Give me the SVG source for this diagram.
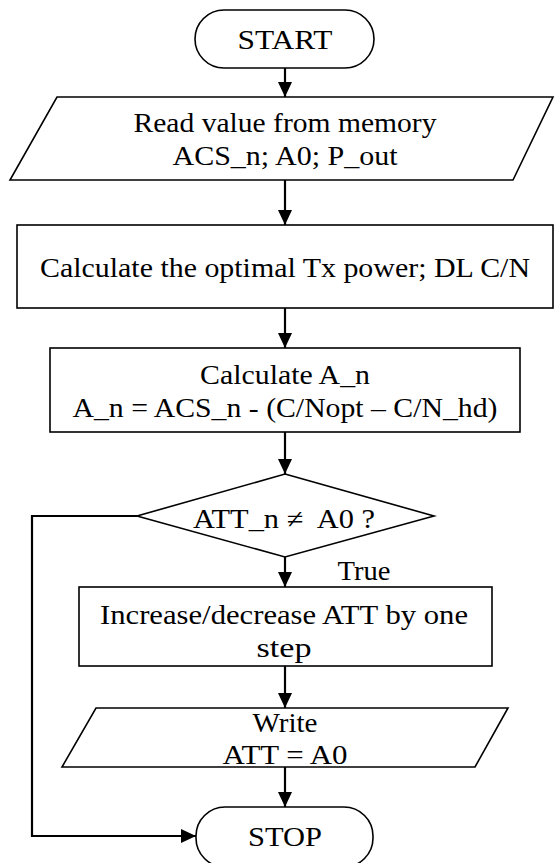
<svg xmlns="http://www.w3.org/2000/svg" width="555" height="863" viewBox="0 0 555 863">
<style>
.s{fill:#fff;stroke:#000;stroke-width:1.6}
.t{font-family:"Liberation Serif","Times New Roman",serif;font-size:27px;fill:#000;text-anchor:middle;white-space:pre}
.c{fill:none;stroke:#000;stroke-width:2.2}
</style>
<defs>
<marker id="ah" markerWidth="15" markerHeight="14" refX="15" refY="7" orient="auto" markerUnits="userSpaceOnUse">
<path d="M0,0 L15,7 L0,14 Z" fill="#000"/>
</marker>
</defs>
<rect width="555" height="863" fill="#fff"/>
<g id="connectors">
<line class="c" x1="285" y1="68" x2="285" y2="97" marker-end="url(#ah)"/>
<line class="c" x1="285" y1="180" x2="285" y2="225" marker-end="url(#ah)"/>
<line class="c" x1="285" y1="308" x2="285" y2="348" marker-end="url(#ah)"/>
<line class="c" x1="285" y1="432" x2="285" y2="474" marker-end="url(#ah)"/>
<line class="c" x1="285" y1="557" x2="285" y2="587" marker-end="url(#ah)"/>
<line class="c" x1="285" y1="666" x2="285" y2="708" marker-end="url(#ah)"/>
<line class="c" x1="285" y1="767" x2="285" y2="807" marker-end="url(#ah)"/>
<polyline class="c" points="137,516 32,516 32,836 196,836" marker-end="url(#ah)"/>
<text class="t" x="364" y="580" textLength="53" lengthAdjust="spacingAndGlyphs">True</text>
</g>
<g id="start">
<rect class="s" x="195" y="10" width="179" height="58" rx="29"/>
<text class="t" x="285" y="49" textLength="95" lengthAdjust="spacingAndGlyphs">START</text>
</g>
<g id="read">
<polygon class="s" points="57,97 553,97 513,180 10,180"/>
<text class="t" x="285" y="132" textLength="303" lengthAdjust="spacingAndGlyphs">Read value from memory</text>
<text class="t" x="285" y="165" textLength="225" lengthAdjust="spacingAndGlyphs">ACS_n; A0; P_out</text>
</g>
<g id="calc-power">
<rect class="s" x="17" y="225" width="536" height="83"/>
<text class="t" x="285" y="277" textLength="490" lengthAdjust="spacingAndGlyphs">Calculate the optimal Tx power; DL C/N</text>
</g>
<g id="calc-an">
<rect class="s" x="50" y="348" width="470" height="84"/>
<text class="t" x="285" y="384" textLength="170" lengthAdjust="spacingAndGlyphs">Calculate A_n</text>
<text class="t" x="285" y="417" textLength="425" lengthAdjust="spacingAndGlyphs">A_n = ACS_n - (C/Nopt – C/N_hd)</text>
</g>
<g id="decision">
<polygon class="s" points="285,474 434,516 285,557 137,516"/>
<text class="t" x="284" y="528" textLength="182" lengthAdjust="spacingAndGlyphs">ATT_n ≠  A0 ?</text>
</g>
<g id="adjust">
<rect class="s" x="79" y="587" width="413" height="79"/>
<text class="t" x="284" y="624" textLength="368" lengthAdjust="spacingAndGlyphs">Increase/decrease ATT by one</text>
<text class="t" x="284" y="657" textLength="55" lengthAdjust="spacingAndGlyphs">step</text>
</g>
<g id="write">
<polygon class="s" points="96,708 508,708 475,767 62,767"/>
<text class="t" x="285" y="732" textLength="65" lengthAdjust="spacingAndGlyphs">Write</text>
<text class="t" x="285" y="764" textLength="125" lengthAdjust="spacingAndGlyphs">ATT = A0</text>
</g>
<g id="stop">
<rect class="s" x="196" y="807" width="177" height="60" rx="29"/>
<text class="t" x="285" y="846" textLength="74" lengthAdjust="spacingAndGlyphs">STOP</text>
</g>
</svg>
